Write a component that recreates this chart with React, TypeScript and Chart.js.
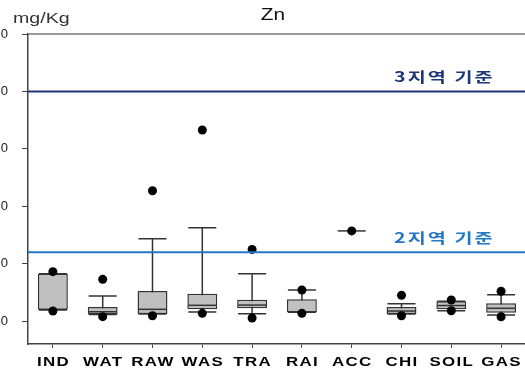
import React, { useEffect, useRef } from "react";
import { Chart, registerables } from "chart.js";

Chart.register(...registerables);

// Zn concentration by land-use category (mg/Kg)
const categories = ["IND", "WAT", "RAW", "WAS", "TRA", "RAI", "ACC", "CHI", "SOIL", "GAS"];
const q1 = [98, 58, 61, 102, 111, 76, null, 61, 102, 72];
const medians = [98, 81, 102, 137, 139, 81, 785, 87, 135, 111];
const q3 = [412, 122, 261, 238, 186, 189, null, 122, 172, 154];
const whiskerLow = [98, 58, 61, 78, 64, 76, null, 61, 90, 52];
const whiskerHigh = [412, 218, 717, 813, 412, 270, null, 151, 172, 229];
const outlierCategory = ["IND", "IND", "WAT", "WAT", "RAW", "RAW", "WAS", "WAS", "TRA", "TRA", "RAI", "RAI", "ACC", "CHI", "CHI", "SOIL", "SOIL", "GAS", "GAS"];
const outlierValue = [430, 87, 363, 38, 1135, 46, 1664, 67, 624, 26, 270, 67, 785, 224, 46, 183, 90, 259, 37];

// soil contamination standards
const standardLabels = ["3지역 기준", "2지역 기준"];
const standardValues = [2000, 600];

const yTicks = [0, 500, 1000, 1500, 2000, 2500];
const yMin = -200;
const yMax = 2500;

const STANDARD_COLORS = ["#1c3778", "#2178c6"];
const HIDDEN_LEFT = 40;
const STRETCH = 1.4;

// text drawn with a horizontal stretch
function wideText(ctx: any, text: string, x: number, y: number, font: string, color: string, align: string, sx = STRETCH, spacing = "0px") {
  ctx.save();
  ctx.font = font;
  ctx.fillStyle = color;
  ctx.letterSpacing = spacing;
  ctx.textAlign = align;
  ctx.textBaseline = "alphabetic";
  ctx.translate(x, y);
  ctx.scale(sx, 1);
  ctx.fillText(text, 0, 0);
  ctx.restore();
}

const spacingPlugin = {
  id: "spacing",
  beforeDraw(chart: any) {
    (chart.ctx as any).letterSpacing = "4px";
  },
};

const boxPlugin = {
  id: "boxParts",
  beforeDatasetsDraw(chart: any) {
    const { ctx, scales } = chart;
    const x = scales.x;
    const y = scales.y;
    ctx.save();
    ctx.strokeStyle = "#333";
    ctx.lineWidth = 1.5;
    categories.forEach((c, i) => {
      if (whiskerLow[i] == null || whiskerHigh[i] == null) return;
      const cx = x.getPixelForValue(i);
      const half = 14;
      const yl = y.getPixelForValue(whiskerLow[i]);
      const yh = y.getPixelForValue(whiskerHigh[i]);
      ctx.beginPath();
      ctx.moveTo(cx, yl);
      ctx.lineTo(cx, yh);
      ctx.moveTo(cx - half, yl);
      ctx.lineTo(cx + half, yl);
      ctx.moveTo(cx - half, yh);
      ctx.lineTo(cx + half, yh);
      ctx.stroke();
    });
    ctx.restore();
  },
  afterDatasetDraw(chart: any, args: any) {
    if (args.index !== 1) return;
    const { ctx, scales } = chart;
    const x = scales.x;
    const y = scales.y;
    ctx.save();
    ctx.strokeStyle = "#333";
    ctx.lineWidth = 1.5;
    categories.forEach((c, i) => {
      if (medians[i] == null) return;
      const cx = x.getPixelForValue(i);
      const ym = y.getPixelForValue(medians[i]);
      ctx.beginPath();
      ctx.moveTo(cx - 14, ym);
      ctx.lineTo(cx + 14, ym);
      ctx.stroke();
    });
    ctx.restore();
  },
};

const framePlugin = {
  id: "frame",
  afterDatasetsDraw(chart: any) {
    const { ctx, chartArea, scales } = chart;
    const y = scales.y;
    const x = scales.x;
    ctx.save();
    // top frame line
    ctx.strokeStyle = "#777";
    ctx.lineWidth = 1.5;
    ctx.beginPath();
    ctx.moveTo(chartArea.left, chartArea.top);
    ctx.lineTo(chartArea.right, chartArea.top);
    ctx.stroke();

    // standard lines with labels
    standardValues.forEach((v, i) => {
      const py = y.getPixelForValue(v);
      ctx.strokeStyle = STANDARD_COLORS[i];
      ctx.lineWidth = 2;
      ctx.beginPath();
      ctx.moveTo(chartArea.left, py);
      ctx.lineTo(chartArea.right, py);
      ctx.stroke();
      wideText(ctx, standardLabels[i], chartArea.left + 366, py - 9.5, 'bold 14px "Noto Sans CJK KR"', STANDARD_COLORS[i], "left", 1.4, "1.5px");
    });

    // category labels under the axis
    categories.forEach((c, i) => {
      wideText(ctx, c, x.getPixelForValue(i) + 0.5, chartArea.bottom + 22, 'bold 13px "Liberation Sans"', "#000", "center", 1.3, "1px");
    });

    // title and unit
    wideText(ctx, "Zn", HIDDEN_LEFT + 273, 20, '16px "Liberation Sans"', "#111", "center", 1.3);
    wideText(ctx, "mg/Kg", HIDDEN_LEFT + 13, 22.5, '14px "Liberation Sans"', "#333", "left");
    ctx.restore();
  },
};

export default function App() {
  const canvasRef = useRef<HTMLCanvasElement | null>(null);

  useEffect(() => {
    if (!canvasRef.current) return;
    const chart = new Chart(canvasRef.current, {
      type: "bar",
      data: {
        labels: categories,
        datasets: [
          {
            type: "line",
            label: "outliers",
            data: outlierCategory.map((c, i) => ({ x: c, y: outlierValue[i] })),
            showLine: false,
            pointRadius: 4.5,
            pointHoverRadius: 4.5,
            pointBackgroundColor: "#000",
            pointBorderColor: "#000",
            pointBorderWidth: 0,
          } as any,
          {
            type: "bar",
            label: "box",
            data: categories.map((c, i) => (q1[i] == null || q3[i] == null ? null : [q1[i], q3[i]])),
            backgroundColor: "#c0c0c0",
            borderColor: "#333",
            borderWidth: 1.5,
            borderSkipped: false,
            barPercentage: 0.6,
            categoryPercentage: 1,
          } as any,
        ],
      },
      options: {
        animation: false,
        responsive: true,
        maintainAspectRatio: false,
        layout: { padding: { top: 34, right: 9, left: 0, bottom: 0 } },
        plugins: {
          legend: { display: false },
          tooltip: { enabled: false },
          title: { display: false },
        },
        scales: {
          x: {
            type: "category",
            offset: true,
            grid: { drawOnChartArea: false, drawTicks: true, tickLength: 4, offset: false, color: "#444" },
            border: { display: true, color: "#444", width: 1.5 },
            ticks: { display: false, autoSkip: false },
            afterFit(scale: any) {
              scale.height = 25;
            },
          },
          y: {
            type: "linear",
            min: yMin,
            max: yMax,
            grid: { drawOnChartArea: false, drawTicks: true, tickLength: 6, color: "#444" },
            border: { display: true, color: "#444", width: 1.5 },
            ticks: {
              color: "#222",
              font: { family: "Liberation Sans", size: 13 },
              padding: 10,
            },
            afterBuildTicks(scale: any) {
              scale.ticks = yTicks.map((v) => ({ value: v }));
            },
            afterFit(scale: any) {
              scale.width = HIDDEN_LEFT + 28;
            },
          },
        },
      } as any,
      plugins: [spacingPlugin, boxPlugin, framePlugin],
    });
    return () => chart.destroy();
  }, []);

  return (
    <div style={{ position: "fixed", left: 0, top: 0, width: 525, height: 369, overflow: "hidden", background: "#fff" }}>
      <div style={{ position: "absolute", left: -HIDDEN_LEFT, top: 0, width: 525 + HIDDEN_LEFT + 10, height: 369 }}>
        <canvas ref={canvasRef} />
      </div>
    </div>
  );
}
